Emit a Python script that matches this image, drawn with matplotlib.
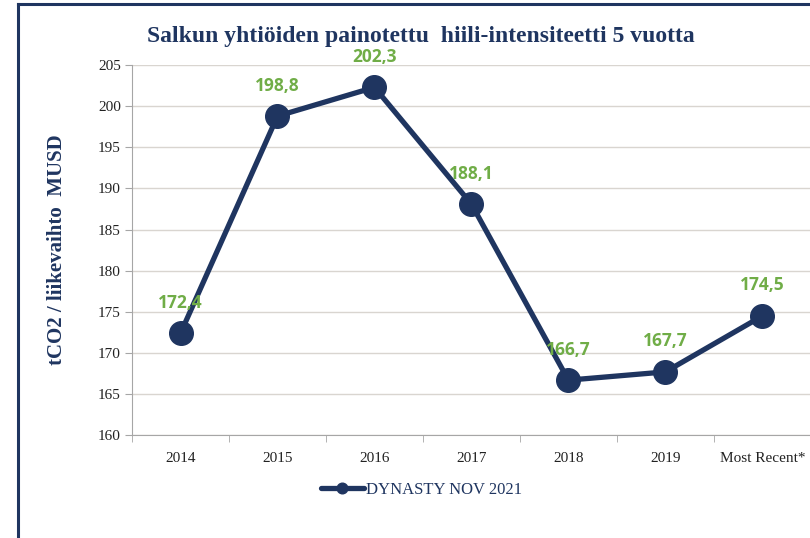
import matplotlib.pyplot as plt
from matplotlib.lines import Line2D

years = ['2014', '2015', '2016', '2017', '2018', '2019', 'Most Recent*']
values = [172.4, 198.8, 202.3, 188.1, 166.7, 167.7, 174.5]
labels = ['172,4', '198,8', '202,3', '188,1', '166,7', '167,7', '174,5']

navy = '#1F3560'
green = '#70AD47'
serif = 'Liberation Serif'

fig = plt.figure(figsize=(8.1, 5.38), dpi=100)
ax = fig.add_axes([0.163, 0.191, 0.838, 0.688])

x = list(range(len(years)))
ax.plot(x, values, color=navy, lw=3.8, marker='o', ms=17, label='DYNASTY NOV 2021',
        solid_capstyle='round', zorder=3)
for xi, v, t in zip(x, values, labels):
    ax.annotate(t, (xi, v), xytext=(0, 22), textcoords='offset points', ha='center',
                va='center', color=green, fontsize=12.5, fontweight='bold',
                family='Open Sans', zorder=4)

ax.set_xlim(-0.5, len(years) - 0.5)
ax.set_ylim(160, 205)
ax.set_yticks(range(160, 206, 5))
ax.set_xticks(x)
ax.set_xticklabels(years)
ax.set_xticks([i + 0.5 for i in range(-1, len(years))], minor=True)
ax.tick_params(axis='x', which='major', length=0, pad=12)
ax.tick_params(axis='x', which='minor', length=5, color='#A6A6A6')
ax.tick_params(axis='y', length=5, color='#A6A6A6', pad=3)
for lab in ax.get_xticklabels() + ax.get_yticklabels():
    lab.set_family(serif)
    lab.set_fontsize(11)
    lab.set_color('#222222')

ax.grid(axis='y', color='#D9D5D0', lw=1)
ax.set_axisbelow(True)
for s in ['top', 'right']:
    ax.spines[s].set_visible(False)
ax.spines['left'].set_color('#A6A6A6')
ax.spines['bottom'].set_color('#A6A6A6')

ax.set_ylabel('tCO2 / liikevaihto  MUSD', family=serif, fontweight='bold', fontsize=15,
              color=navy, labelpad=22)

fig.text(0.52, 0.932, 'Salkun yhtiöiden painotettu  hiili-intensiteetti 5 vuotta',
         ha='center', va='center', family=serif, fontweight='bold', fontsize=17, color=navy)

leg = fig.legend(loc='center', bbox_to_anchor=(0.52, 0.09), frameon=False,
                 prop={'family': serif, 'size': 12}, markerscale=0.45, handlelength=2.6,
                 handletextpad=0.1)
for t in leg.get_texts():
    t.set_color(navy)

# frame edges visible in the reference
fig.add_artist(Line2D([0.0222, 0.0222], [0, 0.992], transform=fig.transFigure, color=navy, lw=2.2))
fig.add_artist(Line2D([0.0222, 1.0], [0.992, 0.992], transform=fig.transFigure, color=navy, lw=2.2))

fig.savefig('out.png', dpi=100)
